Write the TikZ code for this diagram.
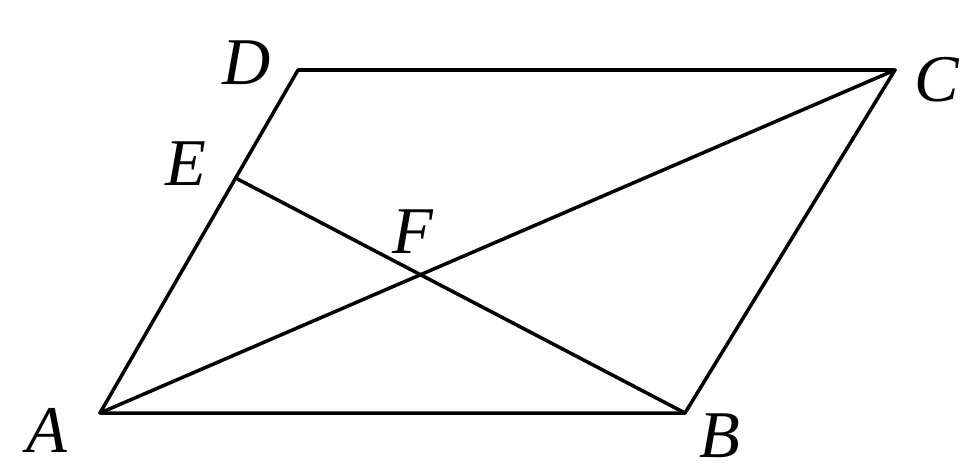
\documentclass[tikz,border=0pt]{standalone}
\usepackage{fontspec}
\setmainfont{Liberation Serif}
\begin{document}
\begin{tikzpicture}[x={(0.02cm,0)},y={(0,-0.02cm)},
  seg/.style={line width=2pt,line cap=round,line join=round},
  lbl/.style={font=\fontsize{38}{40}\selectfont\itshape,inner sep=0pt}]
\useasboundingbox (0,0) rectangle (965,471);
\coordinate (A) at (100,413);
\coordinate (B) at (685,413);
\coordinate (C) at (895,70);
\coordinate (D) at (298,70);
\coordinate (E) at (235.6,178);
\coordinate (F) at (intersection of A--C and E--B);
\draw[seg] (A) -- (B) -- (C) -- (D) -- cycle;
\draw[seg] (A) -- (C);
\draw[seg] (E) -- (B);
\node[lbl] (lA) at (47,430) {A};
\node[lbl] (lB) at (720,436) {B};
\node[lbl] (lC) at (937,80) {C};
\node[lbl] (lD) at (247,63) {D};
\node[lbl] (lE) at (186,164) {E};
\node[lbl] (lF) at (413,232) {F};
\end{tikzpicture}
\end{document}
